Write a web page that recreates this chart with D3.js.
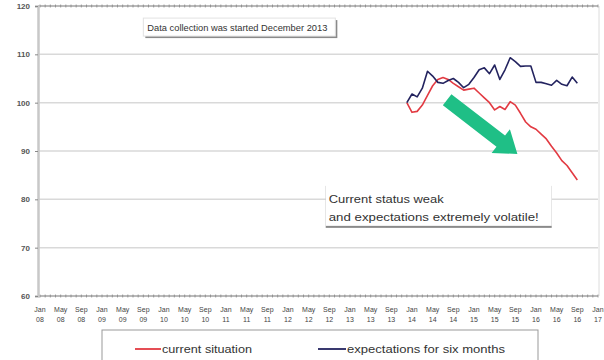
<!DOCTYPE html>
<html>
<head>
<meta charset="utf-8">
<script src="https://cdn.jsdelivr.net/npm/d3@7"></script>
<style>
  html, body { margin: 0; padding: 0; background: #fff; }
  svg { display: block; font-family: "Liberation Sans", Arial, sans-serif; }
</style>
</head>
<body>
<svg id="chart" width="604" height="360"></svg>
<script>
// Monthly survey index (Dec 2013 = first month of collection)
const startMonth = "2013-12";
const currentSituation = [
  100.0, 98.0, 98.2, 99.5, 101.5, 103.5, 104.8, 105.2, 104.8, 104.0,
  103.3, 102.6, 102.8, 103.0, 102.0, 101.0, 100.0, 98.5, 99.2, 98.6,
  100.2, 99.5, 97.8, 96.0, 95.0, 94.5, 93.5, 92.5, 91.0, 89.6,
  88.0, 87.0, 85.5, 84.0
];
const expectationsSixMonths = [
  100.0, 101.8, 101.2, 103.0, 106.5, 105.5, 104.2, 104.0, 104.6, 105.0,
  104.2, 103.1, 103.8, 105.2, 106.8, 107.2, 106.0, 107.8, 104.8, 106.8,
  109.3, 108.5, 107.5, 107.6, 107.6, 104.2, 104.2, 103.9, 103.6, 104.6,
  103.8, 103.5, 105.3, 104.0
];
const yTicks = [60, 70, 80, 90, 100, 110, 120];
const monthNames = ["Jan", "May", "Sep"];
const years = ["08", "09", "10", "11", "12", "13", "14", "15", "16", "17"];
const seriesNames = ["current situation", "expectations for six months"];
const seriesColors = ["#e23a42", "#23235f"];
const noteTop = "Data collection was started December 2013";
const noteBottom = ["Current status weak", "and expectations extremely volatile!"];

const svg = d3.select("#chart");
const plotL = 38, plotR = 598, plotT = 6, plotB = 296;

// x in months since Jan 2008
const monthIndex = s => { const [yy, mm] = s.split("-").map(Number); return (yy - 2008) * 12 + (mm - 1); };
const x = d3.scaleLinear().domain([0, 108]).range([plotL + 2, plotR]);
const y = d3.scaleLinear().domain([60, 120]).range([plotB, plotT]);
const m0 = monthIndex(startMonth);

// tick labels every 4 months
const labelTicks = [];
years.forEach((yr, i) => monthNames.forEach((mn, j) => {
  const idx = i * 12 + j * 4;
  if (idx <= 108) labelTicks.push({ idx, mn, yr });
}));

// gridlines
svg.append("g").selectAll("line").data(yTicks.filter(v => v > 60 && v < 120)).join("line")
  .attr("x1", plotL).attr("x2", plotR)
  .attr("y1", d => y(d)).attr("y2", d => y(d))
  .attr("stroke", "#d9d9d9").attr("stroke-width", 1.5);

// right border
svg.append("line").attr("x1", plotR + 1).attr("x2", plotR + 1).attr("y1", plotT).attr("y2", plotB)
  .attr("stroke", "#dcdcdc").attr("stroke-width", 1);

// top and bottom axes with monthly minor ticks
const months = d3.range(0, 109);
[plotT, plotB].forEach(yy => {
  const g = svg.append("g").attr("transform", `translate(0,${yy})`);
  g.append("line").attr("x1", plotL).attr("x2", plotR).attr("stroke", "#777").attr("stroke-width", 1.2);
  g.selectAll("line.t").data(months).join("line").attr("class", "t")
    .attr("x1", d => x(d)).attr("x2", d => x(d))
    .attr("y1", -1.5).attr("y2", 1.5)
    .attr("stroke", "#888").attr("stroke-width", 0.8);
});

// y axis
const yAxis = d3.axisLeft(y).tickValues(yTicks).tickSize(3).tickPadding(5);
const ya = svg.append("g").attr("transform", `translate(${plotL},0)`).call(yAxis);
ya.select(".domain").attr("stroke", "#c8c8c8").attr("stroke-width", 2.5);
ya.selectAll(".tick line").attr("stroke", "#888");
ya.selectAll(".tick text").attr("font-size", 8).attr("fill", "#555").attr("font-weight", "bold");

// x labels
const xl = svg.append("g");
xl.selectAll("text.m").data(labelTicks).join("text").attr("class", "m")
  .attr("x", d => x(d.idx)).attr("y", plotB + 16)
  .attr("text-anchor", "middle").attr("font-size", 7).attr("fill", "#444")
  .text(d => d.mn);
xl.selectAll("text.y").data(labelTicks).join("text").attr("class", "y")
  .attr("x", d => x(d.idx)).attr("y", plotB + 26)
  .attr("text-anchor", "middle").attr("font-size", 7).attr("fill", "#444")
  .text(d => d.yr);

// series lines
const line = d3.line().x((d, i) => x(m0 + i)).y(d => y(d));
[currentSituation, expectationsSixMonths].forEach((s, k) => {
  svg.append("path").datum(s).attr("d", line)
    .attr("fill", "none").attr("stroke", seriesColors[k])
    .attr("stroke-width", 1.6).attr("stroke-linejoin", "round");
});

// trend arrow (in data space: months / index value)
const arrowFrom = [78.8, 100.6], arrowTo = [92.4, 89.4];
(function drawArrow() {
  const x0 = x(arrowFrom[0]), y0 = y(arrowFrom[1]);
  const x1 = x(arrowTo[0]), y1 = y(arrowTo[1]);
  const len = Math.hypot(x1 - x0, y1 - y0);
  const ang = Math.atan2(y1 - y0, x1 - x0) * 180 / Math.PI;
  const bw = 7, hw = 15, hl = 21;
  const pts = [[0, -bw], [len - hl, -bw], [len - hl, -hw], [len, 0], [len - hl, hw], [len - hl, bw], [0, bw]];
  svg.append("path")
    .attr("d", "M" + pts.map(p => p.join(",")).join("L") + "Z")
    .attr("transform", `translate(${x0},${y0}) rotate(${ang})`)
    .attr("fill", "#1fbf86");
})();

// top note box
const n1 = svg.append("g").attr("transform", `translate(${x(20)},${y(117.5)})`);
n1.append("rect").attr("x", 2).attr("y", 2).attr("width", 192).attr("height", 18).attr("fill", "#8a8a8a");
n1.append("rect").attr("width", 192).attr("height", 18).attr("fill", "#fff").attr("stroke", "#e2e2e2");
n1.append("text").attr("x", 4).attr("y", 13).attr("font-size", 9).attr("fill", "#333")
  .attr("textLength", 180).attr("lengthAdjust", "spacingAndGlyphs").text(noteTop);

// bottom note box
const n2 = svg.append("g").attr("transform", `translate(${x(55.3)},${y(83.2)})`);
n2.append("rect").attr("x", 0).attr("y", 2).attr("width", 226).attr("height", 42).attr("fill", "#8a8a8a");
n2.append("rect").attr("width", 226).attr("height", 42).attr("fill", "#fff");
n2.selectAll("text").data(noteBottom).join("text")
  .attr("x", 3).attr("y", (d, i) => 19 + i * 18)
  .attr("font-size", 10).attr("fill", "#333")
  .attr("textLength", (d, i) => i === 0 ? 115 : 210).attr("lengthAdjust", "spacingAndGlyphs")
  .text(d => d);

// legend
const lg = svg.append("g").attr("transform", "translate(102,330)");
lg.append("rect").attr("width", 436).attr("height", 40).attr("fill", "#fff").attr("stroke", "#999");
const items = [{ x: 33, w: 26, tw: 90 }, { x: 216, w: 28, tw: 158 }];
items.forEach((it, k) => {
  lg.append("line").attr("x1", it.x).attr("x2", it.x + it.w).attr("y1", 19).attr("y2", 19)
    .attr("stroke", seriesColors[k]).attr("stroke-width", 1.8);
  lg.append("text").attr("x", it.x + it.w + 1).attr("y", 23)
    .attr("font-size", 10.5).attr("fill", "#333")
    .attr("textLength", it.tw).attr("lengthAdjust", "spacingAndGlyphs")
    .text(seriesNames[k]);
});
</script>
</body>
</html>
